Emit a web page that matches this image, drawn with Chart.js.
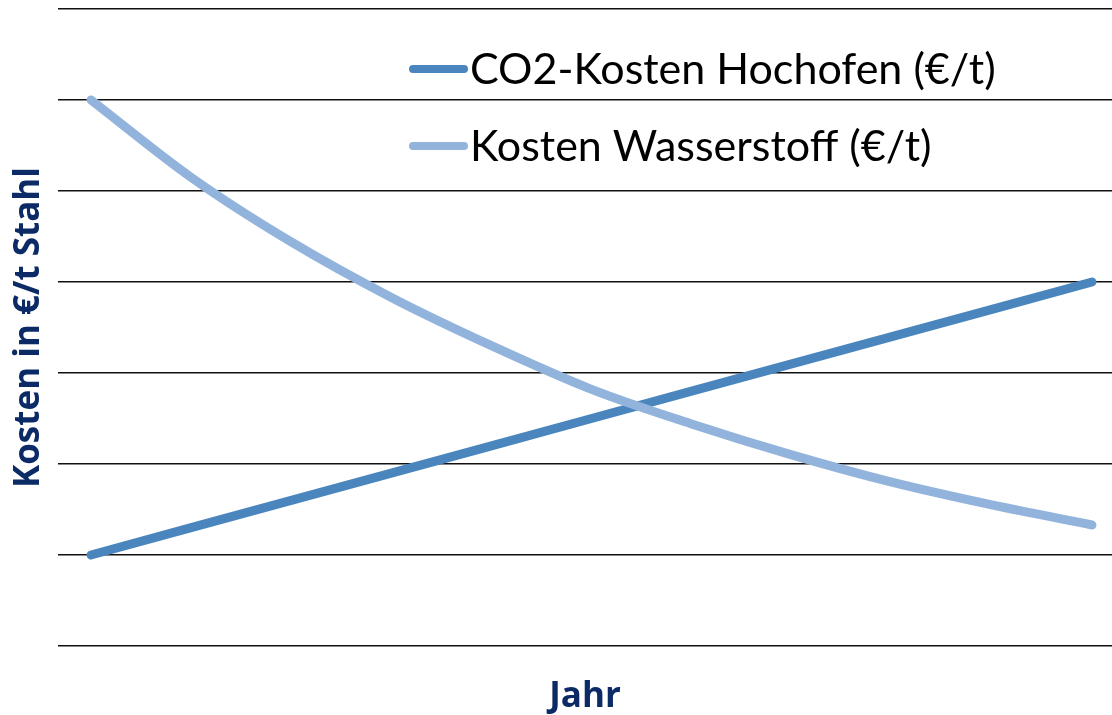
<!DOCTYPE html>
<html>
<head>
<meta charset="utf-8">
<script src="https://cdn.jsdelivr.net/npm/chart.js@4"></script>
<style>
  html, body { margin: 0; padding: 0; background: #fff; }
  #wrap { width: 1112px; height: 715px; position: relative; }
</style>
</head>
<body>
<div id="wrap"><canvas id="c"></canvas></div>
<script>
// ---- data ----
const categories = ['1','2','3','4','5','6','7','8','9','10','11'];
const seriesNames = ['CO2-Kosten Hochofen (€/t)', 'Kosten Wasserstoff (€/t)'];
const hochofen = [1.0, 1.3, 1.6, 1.9, 2.2, 2.5, 2.8, 3.1, 3.4, 3.7, 4.0];
const wasserstoff = [6.0, 5.15, 4.44, 3.83, 3.30, 2.82, 2.44, 2.10, 1.80, 1.55, 1.33];
const yTicks = [0, 1, 2, 3, 4, 5, 6, 7];
const axisTitleY = 'Kosten in €/t Stahl';
const axisTitleX = 'Jahr';

const FONT = 'Lato, "Open Sans", sans-serif';
const TITLE_FONT = '"Open Sans", Lato, sans-serif';
const NAVY = '#0b2a66';
const DARK = '#4a86bd';
const LIGHT = '#92b4dc';

const toXY = arr => arr.map((v, i) => ({ x: i, y: v }));

const insideLegend = {
  id: 'insideLegend',
  afterDatasetsDraw(chart) {
    const ctx = chart.ctx;
    const rows = [
      { ds: chart.data.datasets[1], y: 69 },
      { ds: chart.data.datasets[0], y: 146 }
    ];
    ctx.save();
    rows.forEach(r => {
      ctx.strokeStyle = r.ds.borderColor;
      ctx.lineWidth = 8;
      ctx.lineCap = 'round';
      ctx.beginPath();
      ctx.moveTo(413, r.y);
      ctx.lineTo(464, r.y);
      ctx.stroke();
      ctx.fillStyle = '#000';
      ctx.font = '43px ' + FONT;
      ctx.textBaseline = 'middle';
      ctx.textAlign = 'left';
      ctx.fillText(r.ds.label, 470, r.y + 1);
    });
    ctx.restore();
  }
};

new Chart(document.getElementById('c'), {
  type: 'line',
  data: {
    labels: categories,
    datasets: [
      {
        label: seriesNames[1],
        data: toXY(wasserstoff),
        borderColor: LIGHT,
        borderWidth: 9,
        cubicInterpolationMode: 'monotone',
        pointRadius: 0,
        borderCapStyle: 'round',
        borderJoinStyle: 'round',
        order: 0,
        clip: false
      },
      {
        label: seriesNames[0],
        data: toXY(hochofen),
        borderColor: DARK,
        borderWidth: 9,
        tension: 0,
        pointRadius: 0,
        borderCapStyle: 'round',
        borderJoinStyle: 'round',
        order: 1,
        clip: false
      }
    ]
  },
  options: {
    responsive: true,
    maintainAspectRatio: false,
    animation: false,
    layout: { padding: { top: 9, right: 0, left: 0, bottom: 0 } },
    plugins: { legend: { display: false }, tooltip: { enabled: false } },
    scales: {
      x: {
        type: 'linear',
        min: -0.33,
        max: 10.2,
        grid: { display: false },
        border: { display: false },
        ticks: { display: false },
        title: { display: true, text: axisTitleX, color: NAVY,
                 font: { family: TITLE_FONT, size: 35, weight: 'bold', lineHeight: 1.0 }, padding: { bottom: 0, top: 0 } },
        afterFit(s) { s.height = 69; }
      },
      y: {
        min: yTicks[0],
        max: yTicks[yTicks.length - 1],
        afterBuildTicks(s) { s.ticks = yTicks.map(v => ({ value: v })); },
        grid: { color: '#111', lineWidth: 1.6, drawTicks: false },
        border: { display: false },
        ticks: { display: false },
        title: { display: true, text: axisTitleY, color: NAVY,
                 font: { family: TITLE_FONT, size: 35, weight: 'bold', lineHeight: 1.0 }, padding: { top: 12, bottom: 0 } },
        afterFit(s) { s.width = 58; }
      }
    }
  },
  plugins: [insideLegend]
});
</script>
</body>
</html>
